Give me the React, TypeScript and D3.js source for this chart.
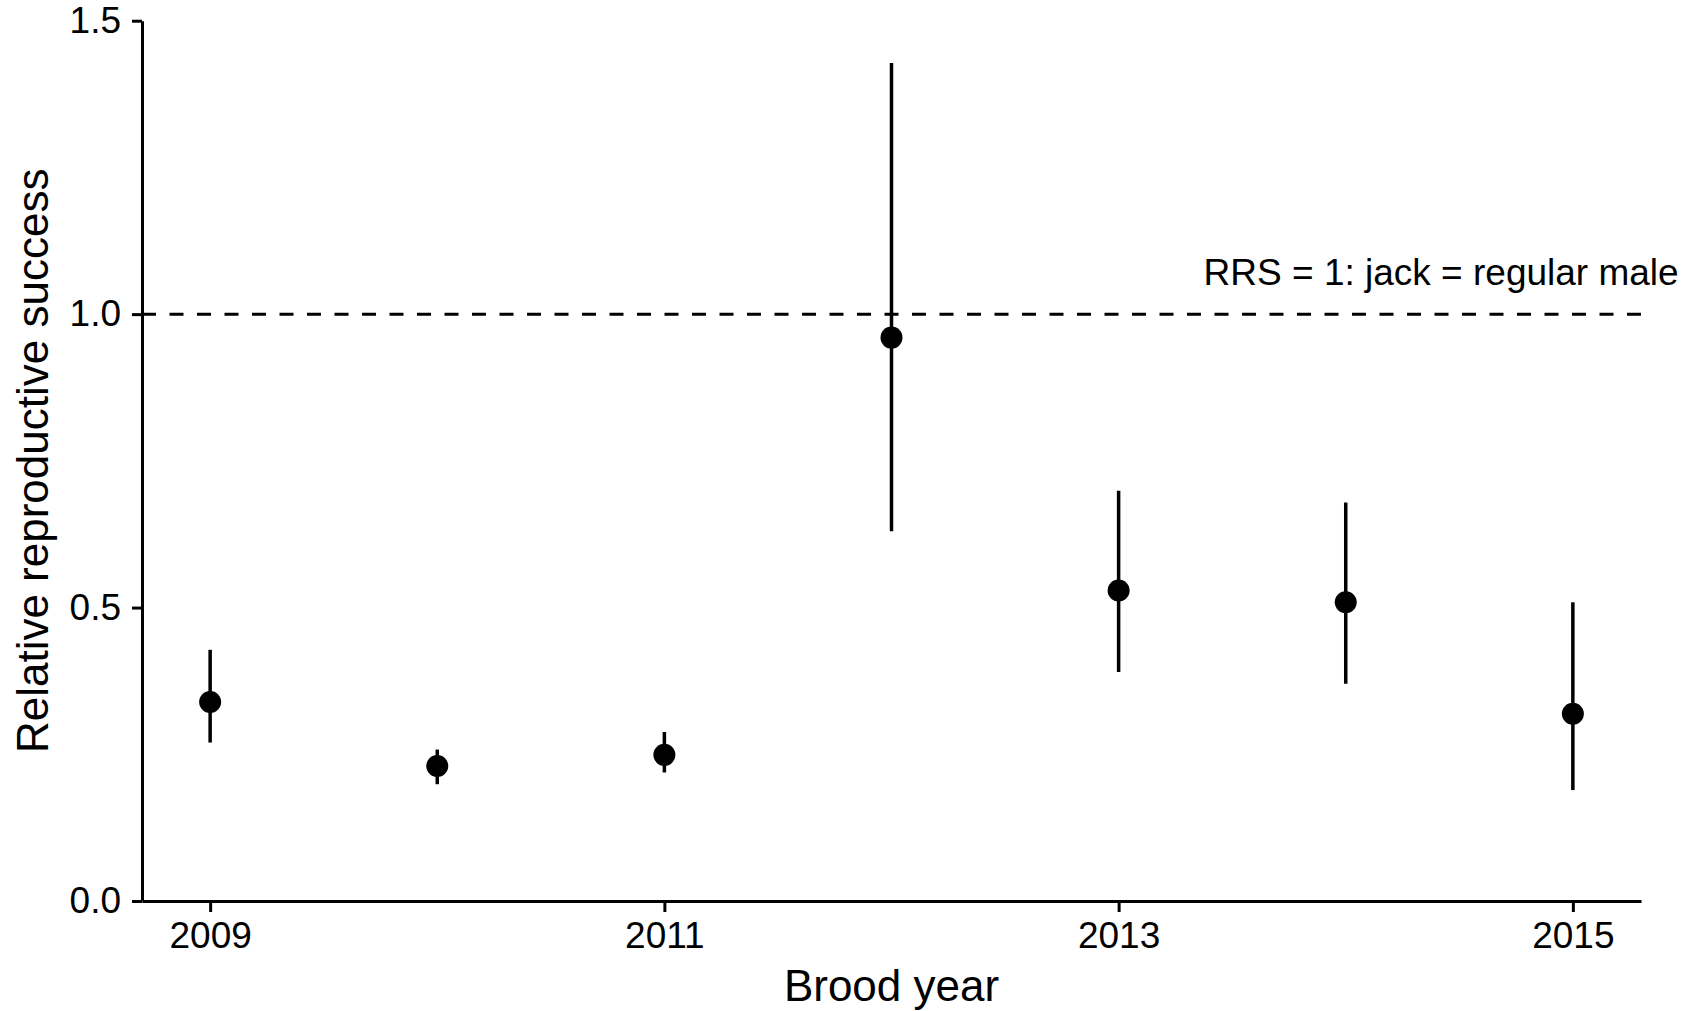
import React, { useRef, useEffect } from "react";
import * as d3 from "d3";

// brood years and relative reproductive success (jack vs regular male)
const years: number[] = [2009, 2010, 2011, 2012, 2013, 2014, 2015];
const rrs: number[] = [0.339, 0.23, 0.249, 0.96, 0.529, 0.509, 0.319];
const lower: number[] = [0.27, 0.199, 0.219, 0.63, 0.39, 0.37, 0.189];
const upper: number[] = [0.428, 0.258, 0.288, 1.428, 0.699, 0.679, 0.509];

const xTicks: number[] = [2009, 2011, 2013, 2015];
const yTicks: number[] = [0, 0.5, 1.0, 1.5];

const xLabel = "Brood year";
const yLabel = "Relative reproductive success";
const refLabel = "RRS = 1: jack = regular male";

const App = () => {
    const canvas = useRef<SVGSVGElement>(null);

    const width = 1702;
    const height = 1011;
    const font = "'Liberation Sans', Arial, Helvetica, sans-serif";

    useEffect(() => {
        const svg = d3.select(canvas.current);
        svg.selectAll("*").remove();

        const xScale = d3.scaleLinear().domain([2008.7, 2015.3]).range([142, 1641]);
        const yScale = d3.scaleLinear().domain([0, 1.5]).range([901, 20.7]);

        // reference line at RRS = 1
        svg.append("line")
            .attr("x1", xScale(2008.7))
            .attr("x2", xScale(2015.3))
            .attr("y1", yScale(1))
            .attr("y2", yScale(1))
            .attr("stroke", "#000")
            .attr("stroke-width", 3)
            .attr("stroke-dasharray", "14,13.5");

        svg.append("text")
            .attr("x", xScale(2014.42))
            .attr("y", yScale(1.05))
            .attr("text-anchor", "middle")
            .style("font-family", font)
            .style("font-size", "37px")
            .attr("fill", "#000")
            .text(refLabel);

        // axes
        const xAxis = svg.append("g")
            .attr("transform", "translate(0," + yScale(0) + ")")
            .call(d3.axisBottom(xScale).tickValues(xTicks).tickFormat(d3.format("d")).tickSize(11).tickSizeOuter(0).tickPadding(10));
        const yAxis = svg.append("g")
            .attr("transform", "translate(" + xScale(2008.7) + ",0)")
            .call(d3.axisLeft(yScale).tickValues(yTicks).tickFormat(d3.format(".1f")).tickSize(10).tickSizeOuter(0).tickPadding(11));

        [xAxis, yAxis].forEach(a => {
            a.select(".domain").attr("stroke", "#000").attr("stroke-width", 3);
            a.selectAll(".tick line").attr("stroke", "#000").attr("stroke-width", 3);
            a.selectAll(".tick text")
                .attr("fill", "#000")
                .style("font-family", font)
                .style("font-size", "37px");
        });

        // error bars
        svg.selectAll("line.err")
            .data(years)
            .enter().append("line")
                .attr("class", "err")
                .attr("x1", (d: number) => xScale(d))
                .attr("x2", (d: number) => xScale(d))
                .attr("y1", (d: number, i: number) => yScale(lower[i]))
                .attr("y2", (d: number, i: number) => yScale(upper[i]))
                .attr("stroke", "#000")
                .attr("stroke-width", 3.5);

        // points
        svg.selectAll("circle")
            .data(years)
            .enter().append("circle")
                .attr("cx", (d: number) => xScale(d))
                .attr("cy", (d: number, i: number) => yScale(rrs[i]))
                .attr("r", 11)
                .style("fill", "#000");

        // axis titles
        svg.append("text")
            .attr("x", (xScale(2008.7) + xScale(2015.3)) / 2)
            .attr("y", 1000.7)
            .attr("text-anchor", "middle")
            .style("font-family", font)
            .style("font-size", "44px")
            .attr("fill", "#000")
            .text(xLabel);

        svg.append("text")
            .attr("transform", "translate(48," + (yScale(0) + yScale(1.5)) / 2 + ") rotate(-90)")
            .attr("text-anchor", "middle")
            .style("font-family", font)
            .style("font-size", "44px")
            .attr("fill", "#000")
            .text(yLabel);
    }, []);

    return (
        <svg
            ref={canvas}
            width={width}
            height={height}
            style={{ position: "absolute", left: 0, top: 0, background: "#fff" }}
        ></svg>
    );
};

export default App;
